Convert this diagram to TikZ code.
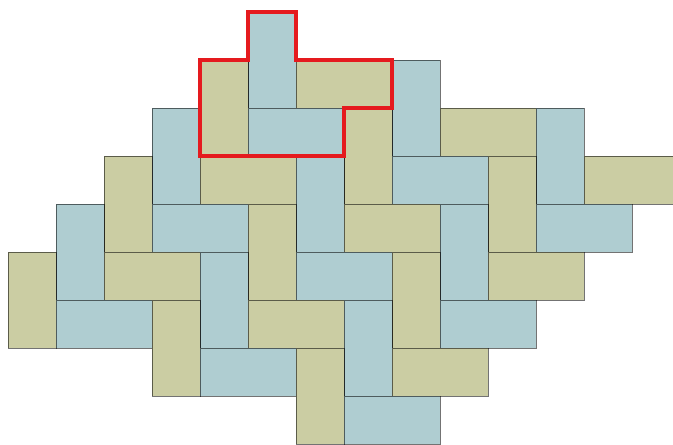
\documentclass[tikz,border=0pt]{standalone}
\definecolor{tanc}{HTML}{CBCDA3}
\definecolor{bluec}{HTML}{AFCDD1}
\definecolor{redc}{HTML}{E51A1E}
\begin{document}
\begin{tikzpicture}[x=1pt,y=-1pt,
  tile/.style={draw=black,draw opacity=0.55,line width=1pt},
  outline/.style={draw=redc,line width=3.2pt,line join=miter}]
\useasboundingbox (0,0) rectangle (673,445);
\clip (0,0) rectangle (673,445);
% tiles: column, row, width (cells), height (cells), colour
\foreach \c/\r/\w/\h/\col in {
  5/0/1/2/bluec, 4/1/1/2/tanc, 6/1/2/1/tanc, 8/1/1/2/bluec,
  5/2/2/1/bluec, 7/2/1/2/tanc, 9/2/2/1/tanc, 11/2/1/2/bluec, 3/2/1/2/bluec,
  2/3/1/2/tanc, 4/3/2/1/tanc, 6/3/1/2/bluec, 8/3/2/1/bluec, 10/3/1/2/tanc, 12/3/2/1/tanc,
  1/4/1/2/bluec, 3/4/2/1/bluec, 5/4/1/2/tanc, 7/4/2/1/tanc, 9/4/1/2/bluec, 11/4/2/1/bluec,
  0/5/1/2/tanc, 2/5/2/1/tanc, 4/5/1/2/bluec, 6/5/2/1/bluec, 8/5/1/2/tanc, 10/5/2/1/tanc,
  1/6/2/1/bluec, 3/6/1/2/tanc, 5/6/2/1/tanc, 7/6/1/2/bluec, 9/6/2/1/bluec,
  4/7/2/1/bluec, 6/7/1/2/tanc, 8/7/2/1/tanc,
  7/8/2/1/bluec}
{
  \path[tile,fill=\col] ({8+48*\c},{12+48*\r}) rectangle ({8+48*(\c+\w)},{12+48*(\r+\h)});
}
\draw[outline] (248,12) -- (296,12) -- (296,60) -- (392,60) -- (392,108) -- (344,108)
  -- (344,156) -- (200,156) -- (200,60) -- (248,60) -- cycle;
\end{tikzpicture}
\end{document}
